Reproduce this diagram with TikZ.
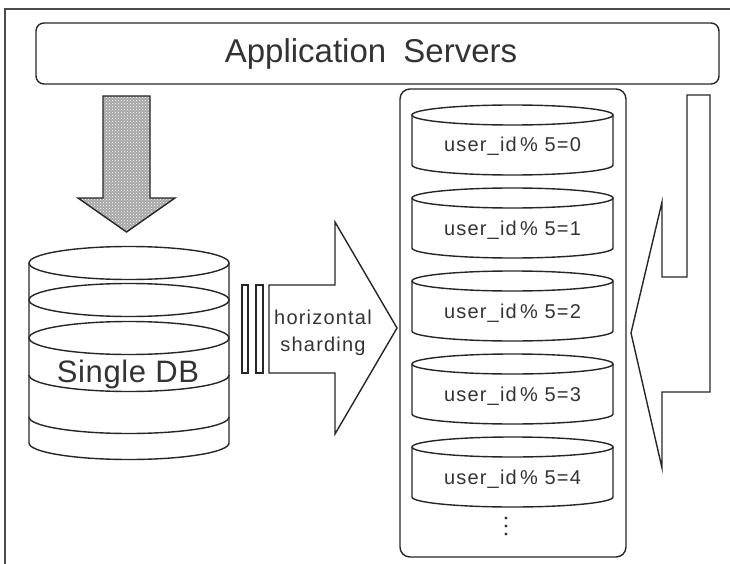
\documentclass[tikz,border=0pt]{standalone}
\usepackage{fontspec}
\setmainfont{Liberation Sans}
\usetikzlibrary{patterns}
\begin{document}
\begin{tikzpicture}[x=1pt,y=-1pt,line join=miter]
\tikzset{
  ln/.style={draw=black!85, line width=1.4pt},
  lbl/.style={text=black!80, inner sep=0pt},
  shard/.style={lbl, anchor=base, font=\fontsize{20}{24}\selectfont\addfontfeature{LetterSpace=6}},
  hatch/.style={ln, preaction={fill=gray!70}, pattern=crosshatch dots, pattern color=white}
}
\useasboundingbox (0,0) rectangle (730,564);
% outer frame (only top and left visible)
\draw[draw=black!70, line width=1.5pt] (730,9) -- (5,9) -- (5,564);
% application servers
\node[ln, rounded corners=8pt, minimum width=683pt, minimum height=61pt, inner sep=0pt] (app) at (377.5,53.5) {};
\node[lbl, anchor=base, font=\fontsize{33}{40}\selectfont] (applbl) at (371,63) {Application\hspace{8pt} Servers};
% down arrow
\draw[hatch] (103,96) -- (150,96) -- (150,198) -- (175,198) -- (126.5,232) -- (78,198) -- (103,198) -- cycle;
% single DB
\draw[ln, fill=white] (29,263) -- (29,443) arc[start angle=180, end angle=0, x radius=100, y radius=16.5] -- (229,263);
\draw[ln] (129,263) ellipse [x radius=100, y radius=16.5];
\draw[ln] (129,300) ellipse [x radius=100, y radius=16.5];
\draw[ln] (129,338) ellipse [x radius=100, y radius=16.5];
\draw[ln] (29,375) arc[start angle=180, end angle=0, x radius=100, y radius=16.5];
\draw[ln] (29,417) arc[start angle=180, end angle=0, x radius=100, y radius=16.5];
\node[lbl, anchor=base, font=\fontsize{31}{36}\selectfont\addfontfeature{LetterSpace=2}] (single) at (128,382) {Single DB};
% bars
\draw[ln, line width=1.2pt] (242,285) rectangle (248,373);
\draw[ln, line width=1.2pt] (256,285) rectangle (263,373);
% horizontal sharding arrow
\draw[ln] (269,285) -- (335,285) -- (335,222) -- (397,328) -- (335,434) -- (335,373) -- (269,373) -- cycle;
\node[shard] (h1) at (323,324) {horizontal};
\node[shard] (h2) at (323,351) {sharding};
% container
\draw[ln, rounded corners=10pt] (400,89) rectangle (626,557);
% shards
\foreach \i in {0,...,4}{
  \pgfmathsetmacro{\yt}{115+83*\i}
  \pgfmathsetmacro{\yb}{165+83*\i}
  \pgfmathsetmacro{\yl}{152+83*\i}
  \draw[ln, fill=white] (412,\yt) -- (412,\yb) arc[start angle=180, end angle=0, x radius=100.5, y radius=10] -- (613,\yt);
  \draw[ln] (512.5,\yt) ellipse [x radius=100.5, y radius=10];
  \node[shard] (s\i) at (512.5,\yl) {user\_id\,\% 5=\i};
}
\fill[black!80] (506,518) circle (1.6);
\fill[black!80] (506,526) circle (1.6);
\fill[black!80] (506,534) circle (1.6);
% return arrow
\draw[ln] (687,95) -- (710,95) -- (710,392) -- (662,392) -- (662,468) -- (631,333) -- (662,202) -- (662,277) -- (687,277) -- cycle;
\end{tikzpicture}
\end{document}
